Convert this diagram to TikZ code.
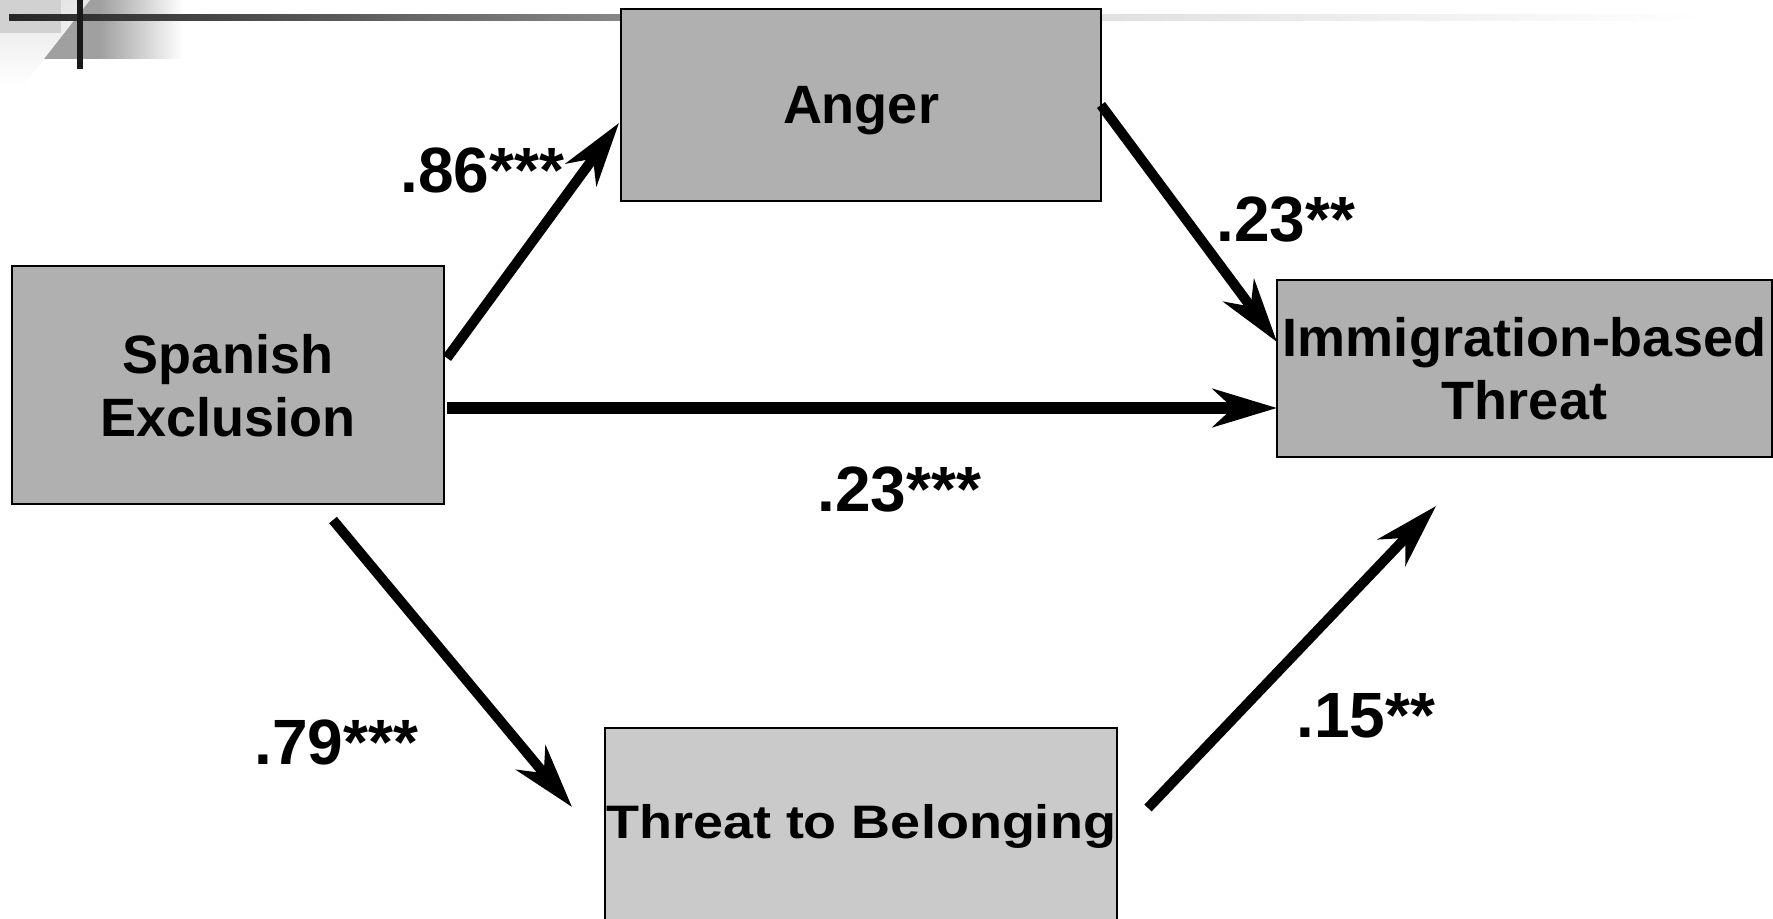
\documentclass[tikz,border=0pt]{standalone}
\usepackage{fontspec}
\usepackage{graphicx}
\setmainfont{Liberation Sans}
\usetikzlibrary{arrows.meta}
\definecolor{boxgray}{HTML}{B0B0B0}
\definecolor{lightbox}{HTML}{CACACA}
\definecolor{decogray}{HTML}{A0A0A0}
\tikzset{
  boxnode/.style={draw=black, line width=1pt, fill=boxgray, rectangle, inner sep=0pt,
    align=center, text depth=0pt, font=\fontsize{27pt}{31.5pt}\selectfont\bfseries},
  coef/.style={anchor=base west, inner sep=0pt, font=\fontsize{32pt}{36pt}\selectfont\bfseries},
  patharrow/.style={line width=5pt, -{Stealth[length=32pt, width=19pt, inset=10pt]}},
}
\begin{document}
\begin{tikzpicture}[x=0.5pt, y=-0.5pt]
\clip (0,0) rectangle (1773,919);
% top-left decoration
\fill[decogray] (0,0) rectangle (100,59);
\shade[left color=decogray, right color=white] (100,0) rectangle (183,59);
\shade[top color=black!10, bottom color=white] (0,0) -- (90,0) -- (22,87) -- (0,87) -- cycle;
\fill[black!18] (0,0) rectangle (61,33);
\shade[left color=black!85, right color=black!47] (9,15) rectangle (621,21);
\shade[left color=black!12, right color=white] (1101,15) rectangle (1703,21);
\fill[black!90] (77,0) rectangle (83,69);
% boxes
\node[boxnode, minimum width=216pt, minimum height=119pt] (spanish) at (228,385) {Spanish\\Exclusion};
\node[boxnode, minimum width=240pt, minimum height=96pt] (anger) at (861,105) {Anger};
\node[boxnode, minimum width=247.5pt, minimum height=88.5pt] (immig) at (1524.5,368.5) {Immigration-based\\Threat};
\node[boxnode, fill=lightbox, text depth=15pt, minimum width=256pt, minimum height=108pt] (threat) at (861,836) {\scalebox{1}[0.87]{Threat to Belonging}};
% connector ends
\coordinate (s1) at (447,358);
\coordinate (e1) at (619,123);
\coordinate (s2) at (1101,105);
\coordinate (e2) at (1277,342);
\coordinate (s3) at (447,408);
\coordinate (e3) at (1277,408);
\coordinate (s4) at (333,520);
\coordinate (e4) at (572,807);
\coordinate (s5) at (1148,808);
\coordinate (e5) at (1436,506);
\draw[patharrow] (s1) -- (e1);
\draw[patharrow] (s2) -- (e2);
\draw[patharrow, line width=6pt] (s3) -- (e3);
\draw[patharrow] (s4) -- (e4);
\draw[patharrow] (s5) -- (e5);
% coefficients
\node[coef] (c1) at (400,193) {.86***};
\node[coef] (c2) at (1216,242) {.23**};
\node[coef] (c3) at (817,512) {.23***};
\node[coef] (c4) at (254,764) {.79***};
\node[coef] (c5) at (1296,737) {.15**};
\end{tikzpicture}
\end{document}
